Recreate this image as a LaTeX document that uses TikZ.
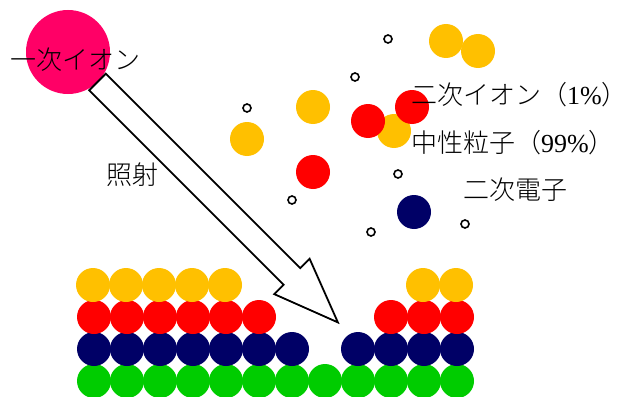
\documentclass[tikz,border=0pt]{standalone}
\usepackage{fontspec}
\setmainfont{Liberation Serif}
\newfontfamily\jpfont{Noto Sans CJK JP Light}
\begin{document}
\begin{tikzpicture}[x=1pt,y=-1pt,
  ball/.style={circle,inner sep=0pt,minimum size=34pt},
  yel/.style={ball,fill=yellowball},
  rd/.style={ball,fill=redball},
  nv/.style={ball,fill=navyball},
  gr/.style={ball,fill=greenball},
  elec/.style={circle,draw=black,fill=white,line width=1.6pt,inner sep=0pt,minimum size=8pt},
  lbl/.style={anchor=west,inner sep=0pt,font=\fontsize{26}{30}\selectfont}]
\definecolor{yellowball}{RGB}{255,192,0}
\definecolor{redball}{RGB}{255,0,0}
\definecolor{navyball}{RGB}{0,0,102}
\definecolor{greenball}{RGB}{0,204,0}
\definecolor{pinkion}{RGB}{255,0,102}
\useasboundingbox (0,0) rectangle (618,396);

% primary ion
\node[circle,fill=pinkion,inner sep=0pt,minimum size=84pt] (ion) at (68,52) {};

% irradiation arrow
\coordinate (src) at (97.5,82);
\begin{scope}[shift={(src)},rotate=-45]
  \draw[line width=1.8pt,fill=white,line join=miter]
    (0,-11.7) -- (275,-11.7) -- (275,-25) -- (340,0) -- (275,25)
    -- (275,11.7) -- (0,11.7) -- cycle;
  \coordinate (tip) at (340,0);
\end{scope}

% sample surface
\foreach \k in {0,...,11} \node[gr] (g\k) at (94+33*\k,381) {};
\foreach \k in {0,...,6,8,9,10,11} \node[nv] (n\k) at (94+33*\k,349) {};
\foreach \k in {0,...,5,9,10,11} \node[rd] (r\k) at (94+33*\k,317) {};
\foreach \k in {0,...,4,10,11} \node[yel] (y\k) at (93+33*\k,285) {};

% sputtered particles
\node[yel] (p1) at (446,41) {};
\node[yel] (p2) at (478,51) {};
\node[yel] (p3) at (313,107) {};
\node[yel] (p4) at (247,139) {};
\node[yel] (p5) at (394,131) {};
\node[rd] (p6) at (368,121) {};
\node[rd] (p7) at (412,107) {};
\node[rd] (p8) at (313,172) {};
\node[nv] (p9) at (414,212) {};

% secondary electrons
\node[elec] (e1) at (388,39) {};
\node[elec] (e2) at (355,77) {};
\node[elec] (e3) at (247,108) {};
\node[elec] (e4) at (398,174) {};
\node[elec] (e5) at (292,200) {};
\node[elec] (e6) at (371,232) {};
\node[elec] (e7) at (465,224) {};

% labels
\node[lbl] (t1) at (10,60) {\jpfont 一次イオン};
\node[lbl] (t2) at (106,175) {\jpfont 照射};
\node[lbl] (t3) at (411,95) {{\jpfont 二次イオン（}1\%{\jpfont ）}};
\node[lbl] (t4) at (411,143) {{\jpfont 中性粒子（}99\%{\jpfont ）}};
\node[lbl] (t5) at (463,190) {\jpfont 二次電子};
\end{tikzpicture}
\end{document}
